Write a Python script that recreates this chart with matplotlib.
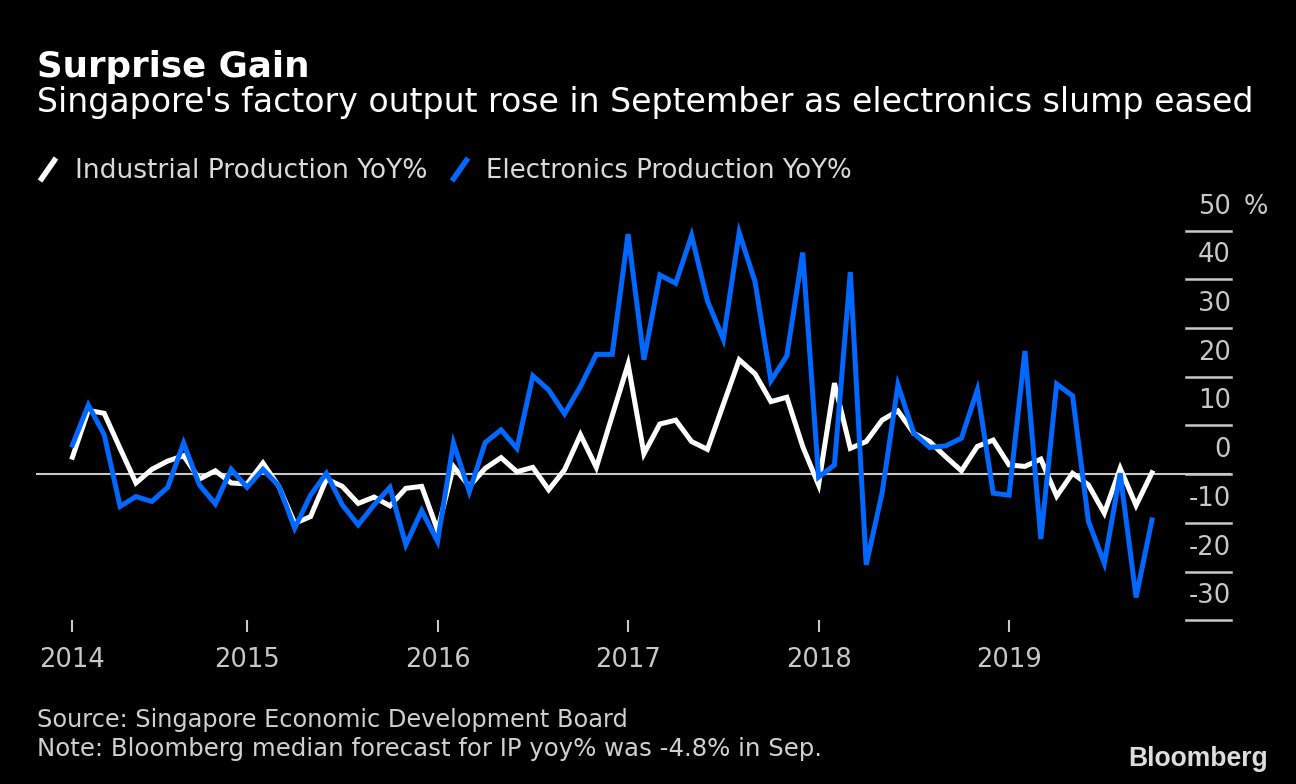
import matplotlib
matplotlib.use("Agg")
import matplotlib.pyplot as plt
import matplotlib.transforms as mtransforms
import numpy as np

W, H = 1296, 784
BLUE = "#0068FF"
GREY = "#C8C8C8"

# month-end positions, Jan 2014 .. Sep 2019
years = [2014] * 12 + [2015] * 12 + [2016] * 12 + [2017] * 12 + [2018] * 12 + [2019] * 9
months = list(range(1, 13)) * 5 + list(range(1, 10))

industrial = [3.5, 13.1, 12.5, 5.3, -1.8, 1.0, 2.7, 3.8, -1.0, 0.7, -1.8, -2.0,
              2.3, -2.5, -10.1, -8.7, -1.0, -2.5, -6.0, -4.7, -6.5, -2.9, -2.5, -11.5,
              1.6, -2.5, 1.2, 3.4, 0.5, 1.4, -3.2, 0.9, 8.1, 1.4, 12.0, 22.6,
              4.2, 10.3, 11.1, 6.7, 5.1, 14.3, 23.5, 20.6, 14.9, 15.8, 5.7, -2.2,
              18.7, 5.3, 6.7, 11.1, 13.0, 8.4, 6.7, 3.6, 0.7, 5.7, 7.0, 1.9,
              1.6, 3.1, -4.5, 0.2, -2.2, -8.0, 1.2, -6.4, 0.3]
electronics = [6.0, 14.2, 8.1, -6.6, -4.6, -5.6, -2.7, 6.4, -2.2, -6.1, 1.0, -2.7,
               1.0, -2.4, -11.1, -4.3, 0.2, -6.3, -10.4, -6.3, -2.7, -14.5, -7.5, -13.8,
               6.4, -3.6, 6.5, 9.1, 5.3, 20.2, 17.3, 12.4, 18.0, 24.6, 24.6, 49.3,
               23.5, 40.9, 39.2, 49.0, 35.6, 27.7, 49.6, 39.5, 19.2, 24.3, 45.5, -0.6,
               1.9, 41.5, -18.6, -3.9, 18.3, 8.4, 5.5, 5.8, 7.4, 17.3, -3.9, -4.3,
               25.3, -13.3, 18.5, 16.1, -9.7, -18.3, 0.2, -25.3, -9.4]

x_ticks = [2014 + 1 / 12, 2015, 2016, 2017, 2018, 2019]
x_labels = ["2014", "2015", "2016", "2017", "2018", "2019"]
y_ticks = [50, 40, 30, 20, 10, 0, -10, -20, -30]

x = np.array(years) + np.array(months) / 12

fig = plt.figure(figsize=(W / 100, H / 100), dpi=100, facecolor="black")
ax = fig.add_axes([36 / W, 1 - 632 / H, 1195 / W, 432 / H], facecolor="black")
ax.set_xlim(2013.892, 2020.165)
ax.set_ylim(-32.4, 56.3)
for s in ax.spines.values():
    s.set_visible(False)

ax.axhline(0, color=GREY, lw=1.5, zorder=1)
ax.plot(x, electronics, color=BLUE, lw=3.6, solid_joinstyle="miter", zorder=3)
ax.plot(x, industrial, color="white", lw=3.6, solid_joinstyle="miter", zorder=2)

# right-hand value axis: short lines with labels sitting above them
trans = mtransforms.blended_transform_factory(ax.transAxes, ax.transData)
for v in y_ticks:
    ax.plot([0.9623, 1.0], [v, v], color=GREY, lw=1.8, transform=trans, clip_on=False)
    ax.annotate(str(v), xy=(1.0, v), xycoords=trans, xytext=(0, 12.3),
                textcoords="offset points", ha="right", va="baseline",
                fontsize=18.5, color=GREY)
ax.annotate("%", xy=(1.0, 50), xycoords=trans, xytext=(9, 12.3),
            textcoords="offset points", ha="left", va="baseline",
            fontsize=18.5, color=GREY)

ax.set_yticks([])
ax.set_xticks(x_ticks)
ax.set_xticklabels(x_labels)
ax.tick_params(axis="x", direction="in", length=8.6, width=1.5, color=GREY,
               labelcolor=GREY, labelsize=18.5, pad=10.5)

# header and footer text
def ptext(px, py, s, **kw):
    return fig.text(px / W, 1 - py / H, s, va="baseline", **kw)

title = ptext(37, 77, "Surprise Gain", color="white", fontsize=22.5, weight="bold")
sub = ptext(37, 112, "Singapore's factory output rose in September as electronics slump eased",
            color="white", fontsize=22)
leg1 = ptext(75, 178, "Industrial Production YoY%", color="#DADADA", fontsize=19)
leg2 = ptext(486, 178, "Electronics Production YoY%", color="#DADADA", fontsize=19)
src = ptext(37, 727, "Source: Singapore Economic Development Board", color="#D0D0D0", fontsize=17)
note = ptext(37, 756, "Note: Bloomberg median forecast for IP yoy% was -4.8% in Sep.",
             color="#D0D0D0", fontsize=17)
logo = ptext(1128, 766, "Bloomberg", color="#DDDDDD", fontsize=19, weight="bold",
             family="Liberation Sans")

# legend swatches (slanted strokes)
for x0, c in [(40, "white"), (452, BLUE)]:
    fig.add_artist(plt.Line2D([x0 / W, (x0 + 16) / W], [1 - 181 / H, 1 - 158 / H],
                              color=c, lw=4, solid_capstyle="butt"))

# squeeze each text to the width it has in the original
r = fig.canvas.get_renderer()
for t, w in [(title, 273), (sub, 1213), (leg1, 353), (leg2, 367), (src, 590),
             (note, 783), (logo, 140)]:
    bb = t.get_window_extent(r)
    t.set_fontsize(t.get_fontsize() * w / bb.width)

fig.savefig("out.png", dpi=100, facecolor="black")
